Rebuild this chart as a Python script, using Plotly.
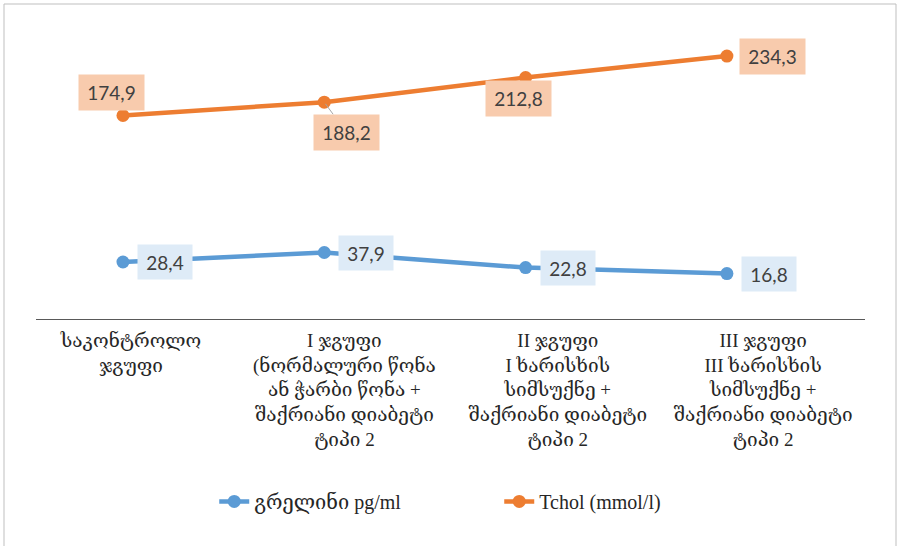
import plotly.graph_objects as go

# Groups (category axis) and the two measured series
categories = [
    "საკონტროლო<br>ჯგუფი",
    "I ჯგუფი<br>(ნორმალური წონა<br>ან ჭარბი წონა +<br>შაქრიანი დიაბეტი<br>ტიპი 2",
    "II ჯგუფი<br>I ხარისხის<br>სიმსუქნე +<br>შაქრიანი დიაბეტი<br>ტიპი 2",
    "III ჯგუფი<br>III ხარისხის<br>სიმსუქნე +<br>შაქრიანი დიაბეტი<br>ტიპი 2",
]
ghrelin = [28.4, 37.9, 22.8, 16.8]
tchol = [174.9, 188.2, 212.8, 234.3]
series_names = ["გრელინი pg/ml", "Tchol (mmol/l)"]

x_pos = list(range(len(categories)))
label_pos = [0.04, 1.10, 2.16, 3.18]

BLUE = "#5B9BD5"
ORANGE = "#ED7D31"
BLUE_BOX = "#DEEBF7"
ORANGE_BOX = "#F8CBAD"
TEXT = "#404040"
SERIF = "Liberation Serif, DejaVu Serif, serif"

fig = go.Figure()
fig.add_trace(go.Scatter(
    x=x_pos, y=ghrelin, name=series_names[0], mode="lines+markers",
    line=dict(color=BLUE, width=4.5), marker=dict(color=BLUE, size=13),
    hoverinfo="skip",
))
fig.add_trace(go.Scatter(
    x=x_pos, y=tchol, name=series_names[1], mode="lines+markers",
    line=dict(color=ORANGE, width=4.5), marker=dict(color=ORANGE, size=13),
    hoverinfo="skip",
))


def fmt(v):
    return f"{v:.1f}".replace(".", ",")


annotations = []
# data labels for the ghrelin series: boxes to the right of each point
for i, v in enumerate(ghrelin):
    annotations.append(dict(
        x=i, y=v, xref="x", yref="y", text=fmt(v), showarrow=False,
        xshift=42, yshift=0, bgcolor=BLUE_BOX, width=54, height=34,
        borderpad=0, font=dict(family="Lato, Open Sans, sans-serif", size=19, color=TEXT),
    ))

# data labels for the cholesterol series
orange_shift = [(-11, 23), (22, -30), (-7, -21), (46, 0)]
for i, v in enumerate(tchol):
    dx, dy = orange_shift[i]
    ann = dict(
        x=i, y=v, xref="x", yref="y", text=fmt(v),
        bgcolor=ORANGE_BOX, width=65, height=35, borderpad=0,
        font=dict(family="Lato, Open Sans, sans-serif", size=19, color=TEXT),
    )
    if i == 1:
        ann.update(showarrow=True, ax=dx, ay=-dy, arrowhead=0,
                   arrowcolor="#A6A6A6", arrowwidth=1, standoff=2)
    else:
        ann.update(showarrow=False, xshift=dx, yshift=dy)
    annotations.append(ann)

fig.update_layout(
    width=897, height=546,
    margin=dict(l=36, r=32, t=20, b=227),
    paper_bgcolor="white", plot_bgcolor="white",
    showlegend=True,
    legend=dict(
        orientation="h", x=0.215, xanchor="left", y=-0.61, yanchor="middle",
        font=dict(family=SERIF, size=20, color="#262626"),
        entrywidth=240, entrywidthmode="pixels",
    ),
    annotations=annotations,
    shapes=[dict(
        type="rect", xref="paper", yref="paper",
        x0=-0.0386, x1=1.0374, y0=-0.8, y1=1.0535,
        line=dict(color="#BFBFBF", width=1), fillcolor="rgba(0,0,0,0)", layer="below",
    )],
)

fig.update_xaxes(
    range=[-0.432, 3.686], showgrid=False, zeroline=False,
    showline=True, linecolor="#595959", linewidth=1,
    tickmode="array", tickvals=label_pos, ticktext=categories, ticks="",
    ticklabelstandoff=4,
    tickfont=dict(family=SERIF, size=19, color="#262626"),
)
fig.update_yaxes(
    range=[-28.6, 270.4], showgrid=False, zeroline=False,
    showline=False, showticklabels=False, ticks="",
)

fig.write_html("out.html")
